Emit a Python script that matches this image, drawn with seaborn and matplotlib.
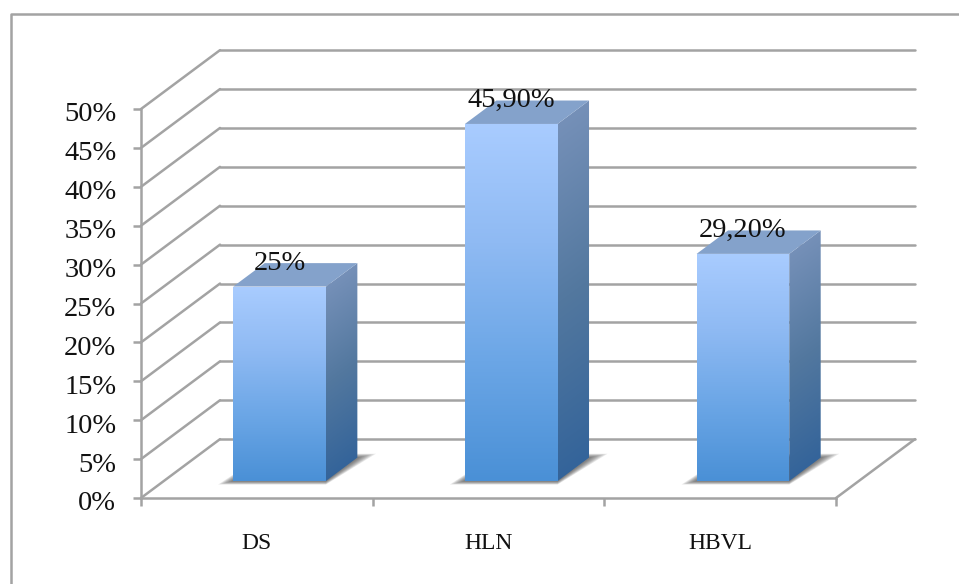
import numpy as np
import pandas as pd
import matplotlib
matplotlib.use("Agg")
import matplotlib.pyplot as plt
from matplotlib.colors import LinearSegmentedColormap
from matplotlib.lines import Line2D
from matplotlib.patches import Polygon
from matplotlib.transforms import ScaledTranslation
import seaborn as sns

categories = ["DS", "HLN", "HBVL"]
values = [25, 45.9, 29.2]
value_labels = ["25%", "45,90%", "29,20%"]
y_ticks = [0, 5, 10, 15, 20, 25, 30, 35, 40, 45, 50]

GRID = "#a3a3a3"
INK = "#111111"
SERIF = "Liberation Serif"
LINE = 1.8
W, H = 959, 584

# Oblique projection: one unit of depth shifts a point right and up in data units.
DEPTH_X = 79 / 231.67
DEPTH_Y = 59 / 7.8
BAR_WIDTH = 0.40
BAR_FRONT = 0.288
BAR_BACK = 0.686

sns.set_theme(style="white")
plt.rcParams["font.family"] = [SERIF, "DejaVu Sans"]

fig = plt.figure(figsize=(W / 100, H / 100), dpi=100)
ax = fig.add_axes([141 / W, 1 - 498 / H, 695 / W, 389 / H])

df = pd.DataFrame({"source": categories, "share": values})
sns.barplot(data=df, x="source", y="share", width=BAR_WIDTH, color="#6fa8e4",
            saturation=1, ax=ax, zorder=5)
ax.set_xlabel("")
ax.set_ylabel("")


def project(x, y, depth):
    return x + depth * DEPTH_X, y + depth * DEPTH_Y


def shaded(ax, outline, colors, zorder, base, height, slope=0.0):
    """Fill a polygon with a vertical colour ramp, optionally sheared along the depth."""
    poly = Polygon(outline, closed=True, transform=ax.transData,
                   facecolor="none", edgecolor="none", clip_on=False)
    ax.add_patch(poly)
    xs, ys = zip(*outline)
    x0, x1, y0, y1 = min(xs), max(xs), min(ys), max(ys)
    gx, gy = np.meshgrid(np.linspace(x0, x1, 64), np.linspace(y0, y1, 512))
    ramp = np.clip((gy - slope * (gx - x0) - base) / height, 0, 1)
    cmap = LinearSegmentedColormap.from_list("ramp", colors[::-1])
    img = ax.imshow(ramp, cmap=cmap, vmin=0, vmax=1, extent=(x0, x1, y0, y1),
                    origin="lower", aspect="auto", interpolation="bilinear",
                    zorder=zorder)
    img.set_clip_box(fig.bbox)
    img.set_clip_path(poly)
    return img


# Walls and floor of the chart box
for tick in y_ticks:
    bx, by = project(2.5, tick, 1)
    lx, ly = project(-0.5, tick, 1)
    ax.add_line(Line2D([-0.5, lx], [tick, ly], color=GRID, lw=LINE, clip_on=False, zorder=1))
    ax.add_line(Line2D([lx, bx], [ly, by], color=GRID, lw=LINE, clip_on=False, zorder=1))
fx, fy = project(2.5, 0, 1)
ax.add_line(Line2D([2.5, fx], [0, fy], color=GRID, lw=LINE, clip_on=False, zorder=1))

# Bars: the seaborn rectangles become the front faces, with depth faces added
for bar, value, label in zip(ax.patches, values, value_labels):
    center = bar.get_x() + bar.get_width() / 2
    left, right = center - BAR_WIDTH / 2, center + BAR_WIDTH / 2
    f, b = BAR_FRONT, BAR_BACK
    floor_y = project(left, 0, f)[1]

    # soft contact shadow on the floor, built from nested translucent layers
    for spread in np.linspace(1, 0.15, 8):
        shadow = [project(left - 0.065 * spread, -0.45 * spread, f),
                  project(right, -0.45 * spread, f),
                  project(right + 0.08 * spread, 0.5 * spread, b),
                  project(left, 0.5 * spread, b)]
        ax.add_patch(Polygon(shadow, closed=True, facecolor="#2a2a2a", alpha=0.1,
                             edgecolor="none", zorder=2, clip_on=False))

    bar.set_x(project(left, 0, f)[0])
    bar.set_y(floor_y)
    bar.set_clip_on(False)
    bar.set_edgecolor("none")

    front = [project(left, 0, f), project(right, 0, f),
             project(right, value, f), project(left, value, f)]
    side = [project(right, 0, f), project(right, 0, b),
            project(right, value, b), project(right, value, f)]
    top = [project(left, value, f), project(right, value, f),
           project(right, value, b), project(left, value, b)]

    shaded(ax, front, ["#a9ccff", "#8fbaf3", "#6ba6e6", "#4a90d6"], 6, floor_y, value)
    shaded(ax, side, ["#7590b8", "#53789f", "#34649a"], 6, floor_y, value,
           slope=DEPTH_Y / DEPTH_X)
    ax.add_patch(Polygon(top, closed=True, facecolor="#84a2cb", edgecolor="none",
                         zorder=6, clip_on=False))

    anchor = project(center, value, f)
    ax.annotate(label, xy=anchor, xytext=(0, 12), textcoords="offset points",
                ha="center", va="baseline", fontsize=20.5, color=INK,
                annotation_clip=False, zorder=8)

ax.set_xlim(-0.5, 2.5)
ax.set_ylim(0, 50)
ax.set_aspect("auto")

sns.despine(ax=ax, top=True, right=True)
for side_name in ("left", "bottom"):
    ax.spines[side_name].set_color(GRID)
    ax.spines[side_name].set_linewidth(LINE)
    ax.spines[side_name].set_zorder(1)

ax.set_yticks(y_ticks)
ax.set_yticklabels([f"{t}%" for t in y_ticks], fontsize=20.5, color=INK)
ax.tick_params(axis="y", length=5.8, width=LINE, color=GRID, pad=12, left=True)
nudge = ScaledTranslation(0, -3 / 100, fig.dpi_scale_trans)
for tick_label in ax.get_yticklabels():
    tick_label.set_transform(tick_label.get_transform() + nudge)

ax.set_xticks(range(len(categories)))
ax.set_xticklabels(categories, fontsize=17, color=INK)
ax.set_xticks([-0.5, 0.5, 1.5, 2.5], minor=True)
ax.tick_params(axis="x", which="major", length=0, pad=25)
ax.tick_params(axis="x", which="minor", length=5.8, width=LINE, color=GRID, bottom=True)

# Outer chart frame
fig.add_artist(Line2D([10.5 / W, 10.5 / W, 1], [0, 1 - 13.5 / H, 1 - 13.5 / H],
                      color=GRID, lw=LINE, transform=fig.transFigure))

fig.savefig("out.png", dpi=100, facecolor="white")
